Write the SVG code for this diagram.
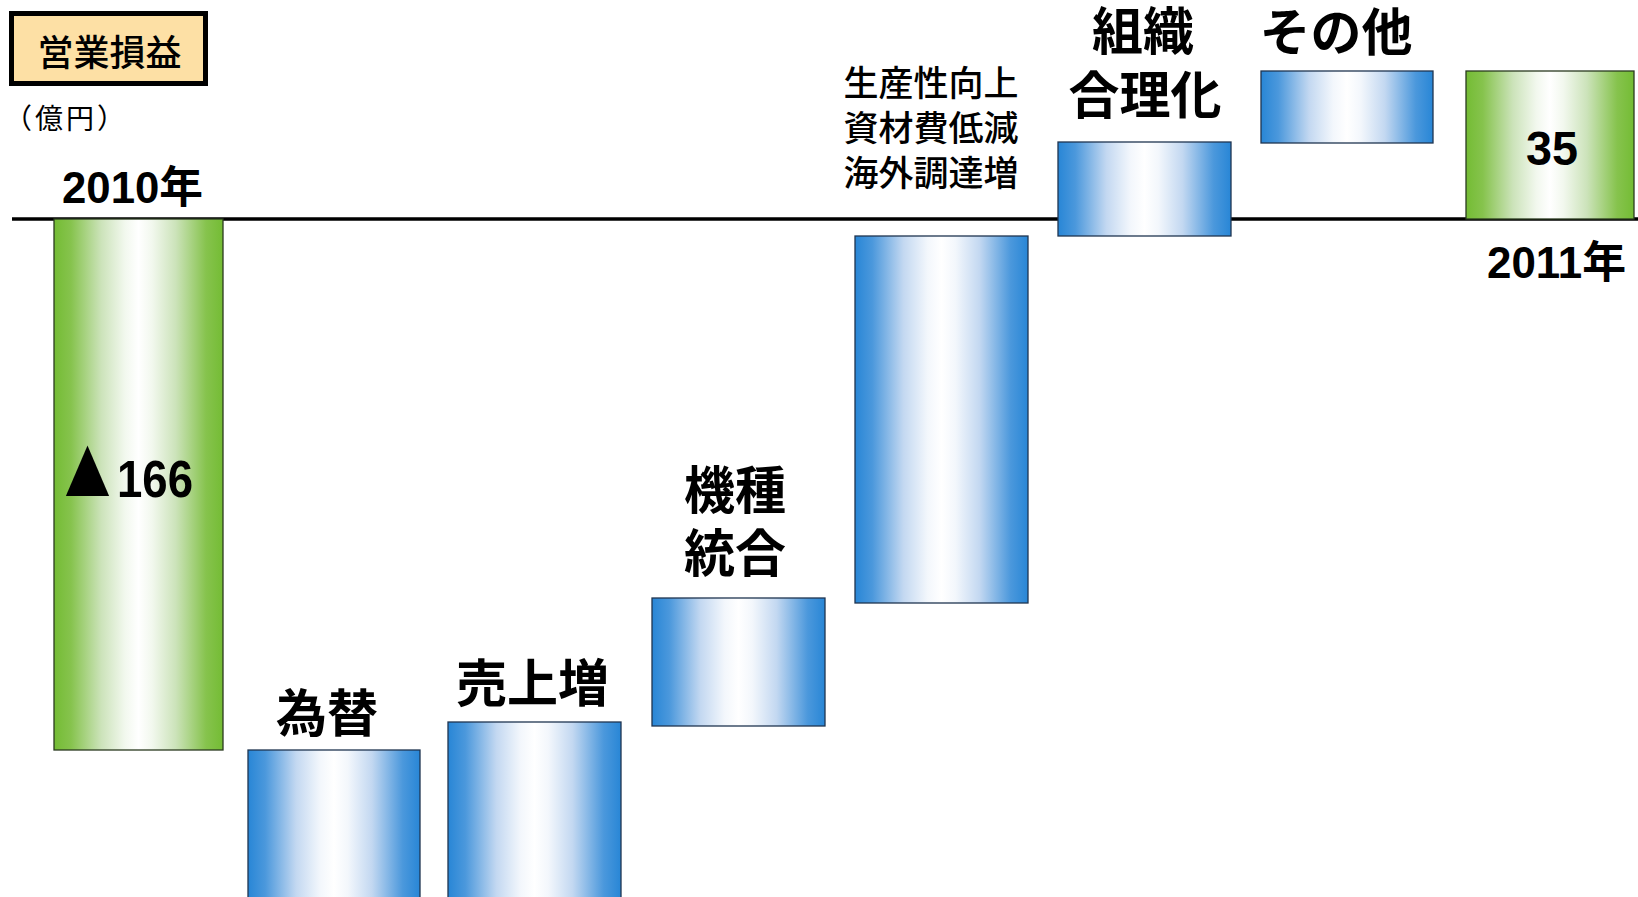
<svg xmlns="http://www.w3.org/2000/svg" width="1638" height="897" viewBox="0 0 1638 897">
<defs>
<linearGradient id="gBlue" x1="0" y1="0" x2="1" y2="0">
<stop offset="0" stop-color="#2886D6"/>
<stop offset="0.1" stop-color="#4B98DC"/>
<stop offset="0.28" stop-color="#C3D8F1"/>
<stop offset="0.42" stop-color="#F3F7FC"/>
<stop offset="0.5" stop-color="#FFFFFF"/>
<stop offset="0.58" stop-color="#F3F7FC"/>
<stop offset="0.72" stop-color="#C3D8F1"/>
<stop offset="0.9" stop-color="#4B98DC"/>
<stop offset="1" stop-color="#2886D6"/>
</linearGradient>
<linearGradient id="gGreen" x1="0" y1="0" x2="1" y2="0">
<stop offset="0" stop-color="#74BC34"/>
<stop offset="0.1" stop-color="#86C34D"/>
<stop offset="0.28" stop-color="#CCE3BA"/>
<stop offset="0.42" stop-color="#F2F8EE"/>
<stop offset="0.5" stop-color="#FFFFFF"/>
<stop offset="0.58" stop-color="#F2F8EE"/>
<stop offset="0.72" stop-color="#CCE3BA"/>
<stop offset="0.9" stop-color="#86C34D"/>
<stop offset="1" stop-color="#74BC34"/>
</linearGradient>
</defs>
<style>
.jp{font-family:"Noto Sans CJK JP","Noto Sans CJK SC",sans-serif;fill:#000}
.big{font-size:51px;font-weight:700;text-anchor:middle}
.mid{font-size:35px;font-weight:500;text-anchor:middle}
.num{font-family:"Liberation Sans","Noto Sans CJK JP",sans-serif;font-weight:700;fill:#000}
.blue{fill:url(#gBlue);stroke:#1F3550;stroke-width:1.3}
.green{fill:url(#gGreen);stroke:#2A3A20;stroke-width:1.3}
</style>
<rect width="1638" height="897" fill="#FFFFFF"/>

<g id="title">
<rect x="11.5" y="13.5" width="194" height="70" fill="#FDE0A5" stroke="#000" stroke-width="5"/>
<text class="jp" x="109.5" y="66" font-size="36" font-weight="500" text-anchor="middle">営業損益</text>
</g>
<g id="unit">
<text class="jp" x="4" y="129" font-size="28" font-weight="400" letter-spacing="3">（億円）</text>
</g>

<g id="axis">
<line x1="12" y1="219" x2="1638" y2="219" stroke="#000" stroke-width="3.5"/>
</g>

<g id="bar-2010">
<rect class="green" x="54" y="219" width="169" height="531"/>
<text class="num" x="62" y="203" font-size="44" textLength="141" lengthAdjust="spacingAndGlyphs">2010年</text>
<text class="jp" x="87.5" y="497" font-size="62" text-anchor="middle" textLength="46" lengthAdjust="spacingAndGlyphs">▲</text>
<text class="num" x="117" y="497" font-size="51" textLength="76" lengthAdjust="spacingAndGlyphs">166</text>
</g>

<g id="bar-kawase">
<rect class="blue" x="248" y="750" width="172" height="160"/>
<text class="jp big" x="327" y="732">為替</text>
</g>

<g id="bar-uriage">
<rect class="blue" x="448" y="722" width="173" height="190"/>
<text class="jp big" x="532.5" y="702">売上増</text>
</g>

<g id="bar-kishu">
<rect class="blue" x="652" y="598" width="173" height="128"/>
<text class="jp big" x="735" y="509">機種</text>
<text class="jp big" x="735" y="572">統合</text>
</g>

<g id="bar-seisansei">
<rect class="blue" x="855" y="236" width="173" height="367"/>
<text class="jp mid" x="931" y="96">生産性向上</text>
<text class="jp mid" x="931" y="141">資材費低減</text>
<text class="jp mid" x="931" y="186">海外調達増</text>
</g>

<g id="bar-soshiki">
<rect class="blue" x="1058" y="142" width="173" height="94"/>
<text class="jp big" x="1143" y="50">組織</text>
<text class="jp big" x="1145" y="114">合理化</text>
</g>

<g id="bar-sonota">
<rect class="blue" x="1261" y="71" width="172" height="72"/>
<text class="jp big" x="1336" y="51">その他</text>
</g>

<g id="bar-2011">
<rect class="green" x="1466" y="71" width="168" height="148"/>
<text class="num" x="1526" y="165" font-size="48" textLength="52" lengthAdjust="spacingAndGlyphs">35</text>
<text class="num" x="1487" y="278" font-size="44" textLength="139" lengthAdjust="spacingAndGlyphs">2011年</text>
</g>
</svg>
